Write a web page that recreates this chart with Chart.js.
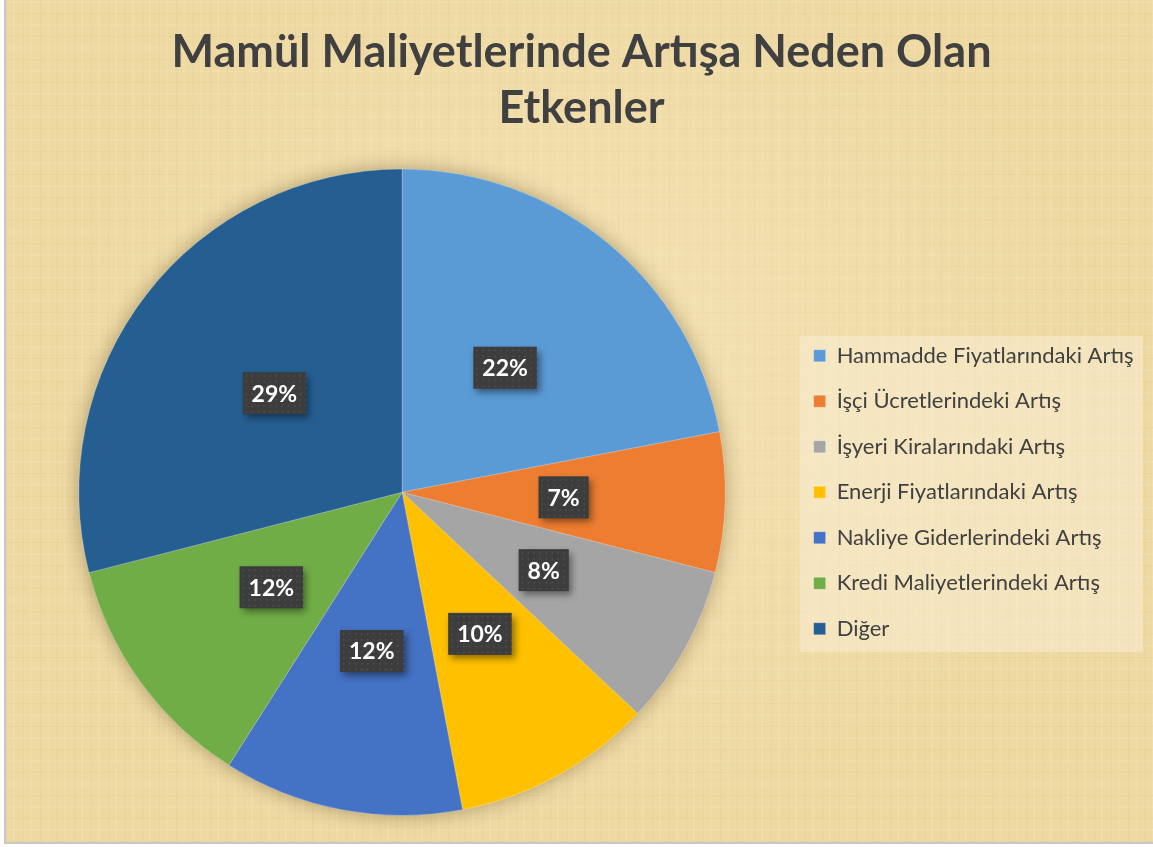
<!DOCTYPE html>
<html lang="tr">
<head>
<meta charset="utf-8">
<title>Mamül Maliyetlerinde Artışa Neden Olan Etkenler</title>
<script src="https://cdn.jsdelivr.net/npm/chart.js@4.4.1/dist/chart.umd.min.js"></script>
<style>
    html, body { margin: 0; padding: 0; background: #ffffff; }
    #frame {
        position: absolute; left: 4px; top: 0; width: 1147px; height: 842px;
        border-left: 2px solid #c8c8c8; border-bottom: 2px solid #c8c8c8;
        background-color: #eed9a3;
        background-image:
            radial-gradient(ellipse at 50% 45%, rgba(250, 236, 196, 0.5) 0%, rgba(250, 236, 196, 0) 65%),
            repeating-linear-gradient(90deg, rgba(170, 130, 50, 0.07) 0 1px, rgba(0,0,0,0) 1px 7px, rgba(255, 245, 215, 0.12) 7px 9px, rgba(0,0,0,0) 9px 17px),
            repeating-linear-gradient(0deg, rgba(170, 130, 50, 0.06) 0 1px, rgba(0,0,0,0) 1px 11px, rgba(255, 245, 215, 0.10) 11px 13px, rgba(0,0,0,0) 13px 23px);
    }
    #wrap { position: absolute; left: 0; top: 0; width: 1153px; height: 847px; }
</style>
</head>
<body>
<div id="frame"></div>
<div id="wrap"><canvas id="pie-chart" width="1153" height="847"></canvas></div>
<script>
// ─── Data ────────────────────────────────────────────────────────────
const titleLines = ['Mamül Maliyetlerinde Artışa Neden Olan', 'Etkenler'];
const categories = [
    'Hammadde Fiyatlarındaki Artış',
    'İşçi Ücretlerindeki Artış',
    'İşyeri Kiralarındaki Artış',
    'Enerji Fiyatlarındaki Artış',
    'Nakliye Giderlerindeki Artış',
    'Kredi Maliyetlerindeki Artış',
    'Diğer'
];
const shares = [22, 7, 8, 10, 12, 12, 29];
const sliceColors = ['#5b9bd5', '#ed7d31', '#a5a5a5', '#ffc000', '#4472c4', '#70ad47', '#255e91'];

const textColor = '#404040';

// ─── Plugins ─────────────────────────────────────────────────────────
// soft shadow under the pie
const pieShadow = {
    id: 'pieShadow',
    beforeDatasetsDraw(chart) {
        const arc = chart.getDatasetMeta(0).data[0];
        if (!arc) return;
        const ctx = chart.ctx;
        ctx.save();
        ctx.shadowColor = 'rgba(60, 40, 0, 0.4)';
        ctx.shadowBlur = 20;
        ctx.beginPath();
        ctx.arc(arc.x, arc.y, arc.outerRadius - 1, 0, Math.PI * 2);
        ctx.fillStyle = '#7a7a7a';
        ctx.fill();
        ctx.restore();
    }
};

// light panel behind the legend items
const legendPanel = {
    id: 'legendPanel',
    beforeDraw(chart) {
        const lg = chart.legend;
        if (!lg || !lg.legendHitBoxes || !lg.legendHitBoxes.length) return;
        const boxes = lg.legendHitBoxes;
        const left = Math.min(...boxes.map(b => b.left)) - 14;
        const right = Math.max(...boxes.map(b => b.left + b.width)) + 4;
        const top = Math.min(...boxes.map(b => b.top)) - 9;
        const bottom = Math.max(...boxes.map(b => b.top + b.height)) + 12;
        const ctx = chart.ctx;
        ctx.save();
        ctx.fillStyle = 'rgba(250, 242, 222, 0.45)';
        ctx.fillRect(left, top, right - left, bottom - top);
        ctx.restore();
    }
};

// dark boxed percentage labels at the middle of each slice
const sliceLabels = {
    id: 'sliceLabels',
    afterDatasetsDraw(chart) {
        const ctx = chart.ctx;
        const data = chart.data.datasets[0].data;
        const total = data.reduce((a, b) => a + b, 0);
        ctx.save();
        ctx.font = 'bold 23px Lato, "Open Sans", sans-serif';
        ctx.textAlign = 'center';
        ctx.textBaseline = 'middle';
        chart.getDatasetMeta(0).data.forEach((arc, i) => {
            const p = arc.getCenterPoint();
            const txt = Math.round(data[i] / total * 100) + '%';
            const w = ctx.measureText(txt).width + 18;
            const h = 42;
            ctx.save();
            ctx.shadowColor = 'rgba(0, 0, 0, 0.45)';
            ctx.shadowBlur = 7;
            ctx.shadowOffsetX = 3;
            ctx.shadowOffsetY = 4;
            ctx.fillStyle = '#3d3d3d';
            ctx.fillRect(p.x - w / 2, p.y - h / 2, w, h);
            ctx.restore();
            // faint dotted texture
            ctx.fillStyle = 'rgba(255, 255, 255, 0.10)';
            for (let dx = 3; dx < w; dx += 6) {
                for (let dy = 3; dy < h; dy += 6) {
                    ctx.fillRect(p.x - w / 2 + dx, p.y - h / 2 + dy, 1.5, 1.5);
                }
            }
            ctx.fillStyle = '#ffffff';
            ctx.fillText(txt, p.x, p.y + 1);
        });
        ctx.restore();
    }
};

// default pie legend items, with a little trailing room on the right
const baseLabels = (Chart.overrides.pie || Chart.overrides.doughnut).plugins.legend.labels.generateLabels;
function legendLabels(chart) {
    const items = baseLabels(chart);
    items.forEach(it => { it.text = it.text + '\u2009\u2009'; });
    return items;
}

// ─── Chart ───────────────────────────────────────────────────────────
new Chart(document.getElementById('pie-chart'), {
    type: 'pie',
    data: {
        labels: categories,
        datasets: [{
            data: shares,
            backgroundColor: sliceColors,
            borderColor: 'rgba(255, 255, 255, 0.25)',
            borderWidth: 1
        }]
    },
    options: {
        responsive: false,
        animation: false,
        rotation: 0,
        layout: { padding: { left: 14, right: 4, top: 0, bottom: 31 } },
        plugins: {
            title: {
                display: true,
                text: titleLines,
                color: textColor,
                font: { family: 'Lato, "Open Sans", sans-serif', size: 45, weight: 'bold', lineHeight: 1.25 },
                padding: { top: 24, bottom: 32 }
            },
            legend: {
                position: 'right',
                fullSize: false,
                labels: {
                    color: textColor,
                    font: { family: 'Lato, "Open Sans", sans-serif', size: 22 },
                    boxWidth: 12,
                    boxHeight: 12,
                    padding: 23.5,
                    generateLabels: legendLabels
                }
            },
            tooltip: { enabled: false }
        }
    },
    plugins: [legendPanel, pieShadow, sliceLabels]
});
</script>
</body>
</html>
